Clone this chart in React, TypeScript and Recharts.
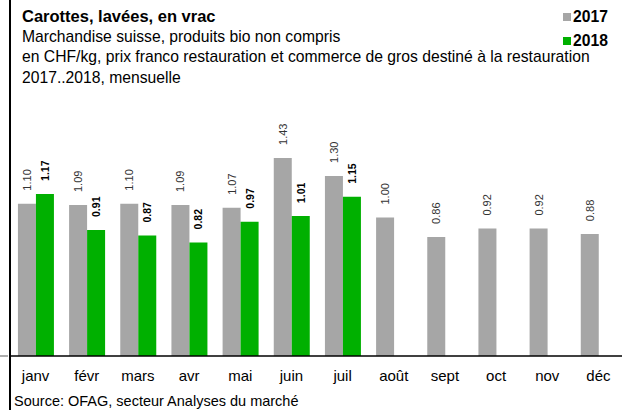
import React from 'react';
import { BarChart, Bar, XAxis, YAxis, LabelList } from 'recharts';

const months = ['janv', 'févr', 'mars', 'avr', 'mai', 'juin', 'juil', 'août', 'sept', 'oct', 'nov', 'déc'];
const prices2017 = [1.1, 1.09, 1.1, 1.09, 1.07, 1.43, 1.3, 1.0, 0.86, 0.92, 0.92, 0.88];
const prices2018: (number | null)[] = [1.17, 0.91, 0.87, 0.82, 0.97, 1.01, 1.15, null, null, null, null, null];

const title = 'Carottes, lavées, en vrac';
const subtitleLines = [
    'Marchandise suisse, produits bio non compris',
    'en CHF/kg, prix franco restauration et commerce de gros destiné à la restauration',
    '2017..2018, mensuelle',
];
const sourceText = 'Source: OFAG, secteur Analyses du marché';

const GRAY = '#a6a6a6';
const GREEN = '#00b000';
const FONT = '"Liberation Sans", Arial, sans-serif';

const data = months.map((m, i) => ({ month: m, y2017: prices2017[i], y2018: prices2018[i] }));

// value labels, turned 90° and sitting a bit above the bar
const makeLabel = (bold: boolean) => (props: any) => {
    const { x, y, width, value } = props;
    if (value === null || value === undefined) return null;
    const cx = Number(x) + Number(width) / 2;
    const ty = Number(y) - 13;
    return (
        <text
            x={cx}
            y={ty}
            transform={`rotate(-90 ${cx} ${ty})`}
            textAnchor="start"
            dominantBaseline="central"
            fontSize={bold ? 10.5 : 11}
            fontWeight={bold ? 'bold' : 'normal'}
            fill={bold ? '#000' : '#333'}
            fontFamily={FONT}
        >
            {Number(value).toFixed(2)}
        </text>
    );
};

const App: React.FC = () => {
    return (
        <div style={{ position: 'absolute', left: 0, top: 0, width: 622, height: 410, overflow: 'hidden', background: '#fff', fontFamily: FONT }}>
            <BarChart
                width={624}
                height={410}
                data={data}
                margin={{ top: 79, right: 0, left: 10, bottom: 24 }}
                barCategoryGap="15.5%"
                barGap={0}
            >
                <YAxis hide domain={[0, 2]} />
                <XAxis
                    dataKey="month"
                    height={30}
                    tickLine={false}
                    tickMargin={8}
                    axisLine={{ stroke: '#000', strokeWidth: 1.3 }}
                    tick={{ fontSize: 15, fill: '#000', fontFamily: FONT }}
                    interval={0}
                />
                <Bar dataKey="y2017" fill={GRAY} isAnimationActive={false}>
                    <LabelList dataKey="y2017" content={makeLabel(false)} />
                </Bar>
                <Bar dataKey="y2018" fill={GREEN} isAnimationActive={false}>
                    <LabelList dataKey="y2018" content={makeLabel(true)} />
                </Bar>
            </BarChart>

            <svg width={622} height={410} style={{ position: 'absolute', left: 0, top: 0, pointerEvents: 'none' }}>
                <line x1={10} y1={0} x2={10} y2={410} stroke="#000" strokeWidth={2} />
                <line x1={0} y1={356} x2={8} y2={356} stroke="#808080" strokeWidth={1.3} />
                <text x={22} y={22} fontSize={16.5} fontWeight="bold" fontFamily={FONT} fill="#000">
                    {title}
                </text>
                {subtitleLines.map((line, i) => (
                    <text key={i} x={22} y={42 + i * 20.3} fontSize={15.7} fontFamily={FONT} fill="#000">
                        {line}
                    </text>
                ))}
                <rect x={563} y={13} width={8} height={8} fill={GRAY} />
                <text x={573} y={22} fontSize={15.7} fontWeight="bold" fontFamily={FONT} fill="#000">2017</text>
                <rect x={563} y={37} width={8} height={8} fill={GREEN} />
                <text x={573} y={46} fontSize={15.7} fontWeight="bold" fontFamily={FONT} fill="#000">2018</text>
                <text x={14} y={406} fontSize={14.5} fontFamily={FONT} fill="#000">
                    {sourceText}
                </text>
            </svg>
        </div>
    );
};

export default App;
